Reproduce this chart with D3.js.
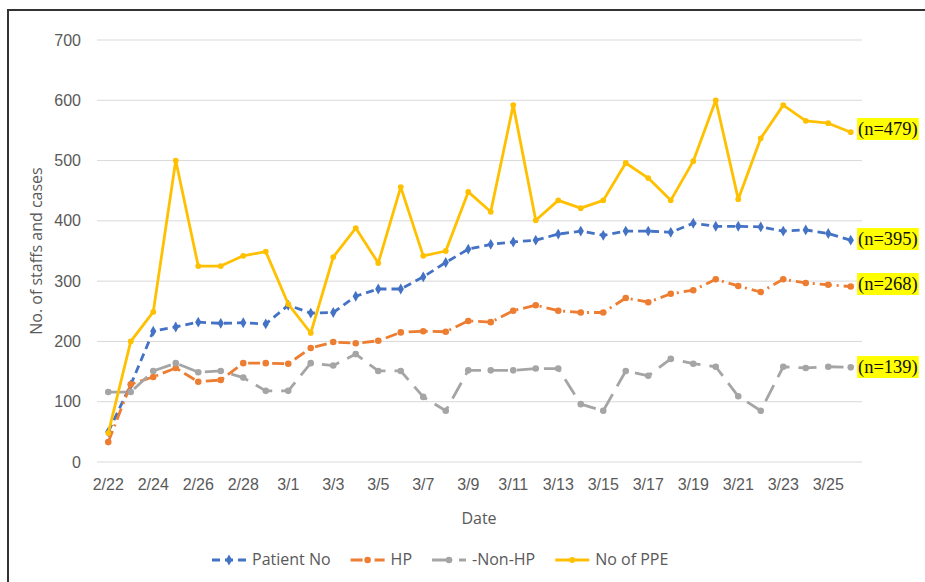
<!DOCTYPE html>
<html>
<head>
<meta charset="utf-8">
<script src="https://cdn.jsdelivr.net/npm/d3@7"></script>
<style>
  html,body{margin:0;padding:0;background:#fff;}
  svg{display:block;font-family:"Open Sans","Noto Sans",sans-serif;}
  .tick text{fill:#595959;font-size:16px;}
  .axis-title{fill:#595959;font-size:16px;}
  .legend-label{fill:#595959;font-size:16px;}
  .nlabel{font-family:"Liberation Serif","DejaVu Serif",serif;font-size:18.5px;fill:#111;}
</style>
</head>
<body>
<div id="chart"></div>
<script>
// x categories (2020)
var dates=["2/22","2/23","2/24","2/25","2/26","2/27","2/28","2/29","3/1","3/2","3/3","3/4","3/5","3/6","3/7","3/8","3/9",
  "3/10","3/11","3/12","3/13","3/14","3/15","3/16","3/17","3/18","3/19","3/20","3/21","3/22","3/23","3/24","3/25","3/26"];
var tickDates=["2/22","2/24","2/26","2/28","3/1","3/3","3/5","3/7","3/9","3/11","3/13","3/15","3/17","3/19","3/21","3/23","3/25"];
var yTicks=[0,100,200,300,400,500,600,700];

var patientNo=[50,128,217,224,232,230,231,229,260,247,248,275,287,287,307,331,353,361,365,368,378,383,376,383,383,381,396,391,391,390,383,385,379,368];
var hp=[33,129,141,156,133,136,164,164,163,189,199,197,201,215,217,216,234,232,251,260,251,248,248,272,265,279,285,303,292,282,303,297,294,291];
var nonHp=[116,116,151,164,149,151,140,118,118,164,160,179,151,151,108,85,152,152,152,155,155,96,85,151,143,171,163,158,109,85,158,156,158,157];
var ppe=[48,200,249,500,325,325,342,349,262,214,340,388,330,456,342,350,448,415,592,401,434,421,434,496,471,434,499,600,436,537,592,566,562,547];

var nLabels=["(n=479)","(n=395)","(n=268)","(n=139)"];

var W=925,H=582;
var svg=d3.select("#chart").append("svg").attr("width",W).attr("height",H);

// outer frame
svg.append("rect").attr("x",8).attr("y",10).attr("width",930).attr("height",600)
  .attr("fill","none").attr("stroke","#333").attr("stroke-width",2);

var x=d3.scaleBand().domain(dates).range([97,862]);
var y=d3.scaleLinear().domain([0,700]).range([462,40]);
var cx=function(i){return x(dates[i])+x.bandwidth()/2;};

// gridlines
svg.append("g").selectAll("line").data(yTicks).enter().append("line")
  .attr("x1",97).attr("x2",862).attr("y1",function(d){return y(d);}).attr("y2",function(d){return y(d);})
  .attr("stroke","#d9d9d9").attr("stroke-width",1);

// axes
var ya=svg.append("g").attr("transform","translate(97,0)")
  .call(d3.axisLeft(y).tickValues(yTicks).tickSize(0).tickPadding(16));
ya.select(".domain").remove();
var xa=svg.append("g").attr("transform","translate(0,462)")
  .call(d3.axisBottom(x).tickValues(tickDates).tickSize(0).tickPadding(17));
xa.select(".domain").remove();
svg.selectAll(".tick text").attr("font-family",null).attr("font-size",null);

svg.append("text").attr("class","axis-title").attr("transform","rotate(-90)")
  .attr("x",-(y(350))).attr("y",42).attr("text-anchor","middle").text("No. of staffs and cases");
svg.append("text").attr("class","axis-title").attr("x",479).attr("y",524).attr("text-anchor","middle").text("Date");

var series=[
  {name:"Patient No",values:patientNo,color:"#4472C4",dash:"8 5",marker:"diamond",size:34},
  {name:"HP",values:hp,color:"#ED7D31",dash:"12 5 2 5",marker:"circle",size:34},
  {name:"-Non-HP",values:nonHp,color:"#A5A5A5",dash:"18 9",marker:"circle",size:34},
  {name:"No of PPE",values:ppe,color:"#FFC000",dash:null,marker:"circle",size:26}
];

var line=d3.line().x(function(d,i){return cx(i);}).y(function(d){return y(d);});

series.forEach(function(s){
  var g=svg.append("g");
  g.append("path").datum(s.values).attr("fill","none").attr("stroke",s.color).attr("stroke-width",2.8)
    .attr("stroke-dasharray",s.dash).attr("stroke-linejoin","round").attr("d",line);
  var sym=d3.symbol().type(s.marker==="diamond"?d3.symbolDiamond:d3.symbolCircle).size(s.size);
  g.selectAll("path.m").data(s.values).enter().append("path").attr("class","m")
    .attr("transform",function(d,i){return "translate("+cx(i)+","+y(d)+")";})
    .attr("d",sym).attr("fill",s.color);
});

// n annotations at right
var nY=[129,239,284,367];
nLabels.forEach(function(t,i){
  var gl=svg.append("g");
  var tx=gl.append("text").attr("class","nlabel").attr("x",858).attr("y",nY[i]+6).text(t);
  var bb=tx.node().getBBox();
  gl.insert("rect","text").attr("x",bb.x-1).attr("y",nY[i]-11).attr("width",bb.width+2).attr("height",22).attr("fill","#FFFF00");
});

// legend
var lx=212, ly=560;
series.forEach(function(s){
  var lg=svg.append("g").attr("transform","translate("+lx+","+ly+")");
  lg.append("line").attr("x1",0).attr("x2",34).attr("y1",0).attr("y2",0).attr("stroke",s.color).attr("stroke-width",2.8)
    .attr("stroke-dasharray",s.dash);
  lg.append("path").attr("transform","translate(17,0)")
    .attr("d",d3.symbol().type(s.marker==="diamond"?d3.symbolDiamond:d3.symbolCircle).size(s.size)).attr("fill",s.color);
  var t=lg.append("text").attr("class","legend-label").attr("x",40).attr("y",5).text(s.name);
  lx+=40+t.node().getComputedTextLength()+20;
});
</script>
</body>
</html>
